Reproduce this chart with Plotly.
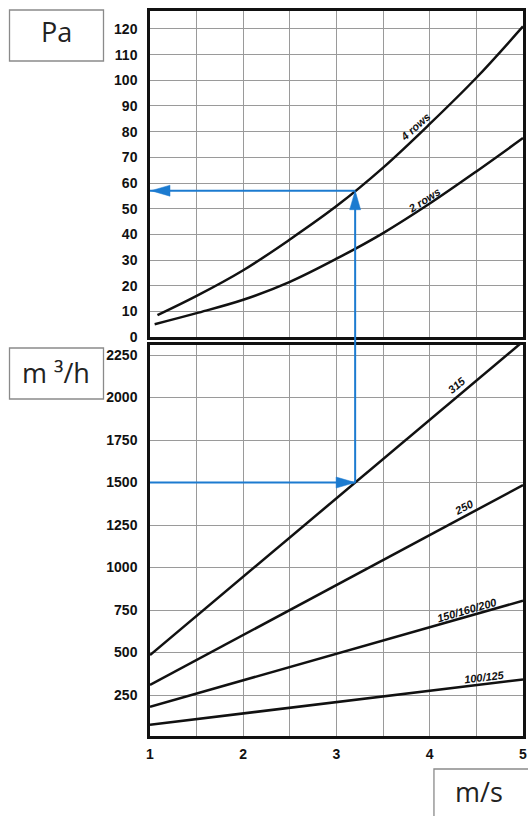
import plotly.graph_objects as go

# ---------------- data ----------------
velocity_ticks = [1, 2, 3, 4, 5]
velocity_grid = [1, 1.5, 2, 2.5, 3, 3.5, 4, 4.5, 5]
pressure_ticks = [0, 10, 20, 30, 40, 50, 60, 70, 80, 90, 100, 110, 120]
flow_ticks = [250, 500, 750, 1000, 1250, 1500, 1750, 2000, 2250]

v_4rows = [1.08, 1.5, 2.0, 2.5, 3.0, 3.5, 4.0, 4.5, 5.0]
p_4rows = [8.5, 16, 26, 38, 51, 66, 83, 101, 121]
v_2rows = [1.05, 1.5, 2.0, 2.5, 3.0, 3.5, 4.0, 4.5, 5.0]
p_2rows = [5, 9.3, 14.5, 21.5, 30.5, 40.5, 52, 64.5, 77.5]

v_duct = [1, 5]
q_100_125 = [75, 342]
q_150_160_200 = [181, 805]
q_250 = [309, 1485]
q_315 = [485, 2330]

example_v = 3.2
example_q = 1500
example_p = 57

# ---------------- layout constants ----------------
W, H = 528, 816
ML, MR, MT, MB = 150, 1, 11, 80
PW, PH = W - ML - MR, H - MT - MB
top_dom = [0.5503, 1.0]
bot_dom = [0.0, 0.5393]
top_rng = [0, 127]
bot_rng = [9, 2309]

BLACK = "#111111"
GRID = "#9a9a9a"
BLUE = "#1c7bd0"
TICKFONT = dict(family="Liberation Sans, Arial, sans-serif", size=14, color="#111111", weight="bold")


def paper_y(v, dom, rng):
    return dom[0] + (v - rng[0]) / (rng[1] - rng[0]) * (dom[1] - dom[0])


def px_x(px):
    return (px - ML) / PW


def px_y(py):
    return (H - MB - py) / PH


fig = go.Figure()

curve = dict(color=BLACK, width=2.5)
fig.add_trace(go.Scatter(x=v_4rows, y=p_4rows, mode="lines", line=dict(shape="spline", **curve),
                         xaxis="x", yaxis="y", showlegend=False, hoverinfo="skip"))
fig.add_trace(go.Scatter(x=v_2rows, y=p_2rows, mode="lines", line=dict(shape="spline", **curve),
                         xaxis="x", yaxis="y", showlegend=False, hoverinfo="skip"))
for q in (q_100_125, q_150_160_200, q_250, q_315):
    fig.add_trace(go.Scatter(x=v_duct, y=q, mode="lines", line=curve,
                             xaxis="x2", yaxis="y2", showlegend=False, hoverinfo="skip"))

axis_common = dict(showline=True, mirror=True, linecolor=BLACK, linewidth=2.5,
                   showgrid=True, gridcolor=GRID, gridwidth=1.3, zeroline=False,
                   tickfont=TICKFONT, ticks="", fixedrange=True, ticklabeloverflow="allow")

fig.update_layout(
    width=W, height=H,
    margin=dict(l=ML, r=MR, t=MT, b=MB),
    paper_bgcolor="white", plot_bgcolor="white",
    xaxis=dict(domain=[0, 1], range=[1, 5], anchor="y", tickvals=velocity_grid,
               showticklabels=False, **axis_common),
    yaxis=dict(domain=top_dom, range=top_rng, anchor="x", tickvals=pressure_ticks,
               ticklabelstandoff=7, **axis_common),
    xaxis2=dict(domain=[0, 1], range=[1, 5], anchor="y2", tickvals=velocity_grid,
                ticktext=[str(v) if v in velocity_ticks else "" for v in velocity_grid],
                ticklabelstandoff=3, **axis_common),
    yaxis2=dict(domain=bot_dom, range=bot_rng, anchor="x2", tickvals=flow_ticks,
                ticklabelstandoff=7, **axis_common),
)

# ---------------- example lines (blue) ----------------
shapes = []
shapes.append(dict(type="line", xref="x", yref="y", x0=example_v, x1=1, y0=example_p, y1=example_p,
                   line=dict(color=BLUE, width=2)))
shapes.append(dict(type="line", xref="x2", yref="y2", x0=1, x1=example_v, y0=example_q, y1=example_q,
                   line=dict(color=BLUE, width=2)))
shapes.append(dict(type="line", xref="x", yref="paper", x0=example_v, x1=example_v,
                   y0=paper_y(example_q, bot_dom, bot_rng),
                   y1=paper_y(example_p, top_dom, top_rng) - 0.005,
                   line=dict(color=BLUE, width=2)))
head = dict(type="path", xsizemode="pixel", ysizemode="pixel", fillcolor=BLUE,
            line=dict(color=BLUE, width=0.5))
shapes.append(dict(head, xref="x", yref="y", xanchor=example_v, yanchor=example_p,
                   path="M0,0 L-5.5,-19 L5.5,-19 Z"))
shapes.append(dict(head, xref="x", yref="y", xanchor=1, yanchor=example_p,
                   path="M1,0 L20,5.5 L20,-5.5 Z"))
shapes.append(dict(head, xref="x2", yref="y2", xanchor=example_v, yanchor=example_q,
                   path="M0,0 L-19,5.5 L-19,-5.5 Z"))

# ---------------- unit boxes ----------------
box_line = dict(color="#8a8a8a", width=1.3)
for (x0, x1, y0, y1) in [(8, 103, 10, 61), (8, 103, 348, 399), (437, 560, 769, 840)]:
    shapes.append(dict(type="rect", xref="paper", yref="paper",
                       x0=px_x(x0), x1=px_x(x1), y0=px_y(y1), y1=px_y(y0),
                       line=box_line, fillcolor="rgba(0,0,0,0)"))
fig.update_layout(shapes=shapes)

unit_font = dict(family="Open Sans, sans-serif", size=27, color="#222222")
for text, cx, cy in [("Pa", 55, 32), ("m ³/h", 55, 372), ("m/s", 483, 791)]:
    fig.add_annotation(text=text, xref="paper", yref="paper", x=px_x(cx), y=px_y(cy),
                       showarrow=False, font=unit_font, xanchor="center", yanchor="middle")

# ---------------- curve labels ----------------
lab_font = dict(family="Liberation Sans, Arial, sans-serif", size=11, color="#111111", weight="bold")
labels = [
    ("4 rows", "x", "y", 3.84, 82.0, -42),
    ("2 rows", "x", "y", 3.94, 53.5, -33),
    ("315", "x2", "y2", 4.29, 2075, -40),
    ("250", "x2", "y2", 4.37, 1355, -28),
    ("150/160/200", "x2", "y2", 4.40, 752, -16),
    ("100/125", "x2", "y2", 4.59, 358, -7),
]
for text, xr, yr, x, y, ang in labels:
    fig.add_annotation(text="<i>" + text + "</i>", xref=xr, yref=yr, x=x, y=y,
                       showarrow=False, textangle=ang, font=lab_font)

fig.write_html("out.html", config={"displayModeBar": False},
               post_script="document.body.style.margin='0';document.body.style.overflow='hidden';")
